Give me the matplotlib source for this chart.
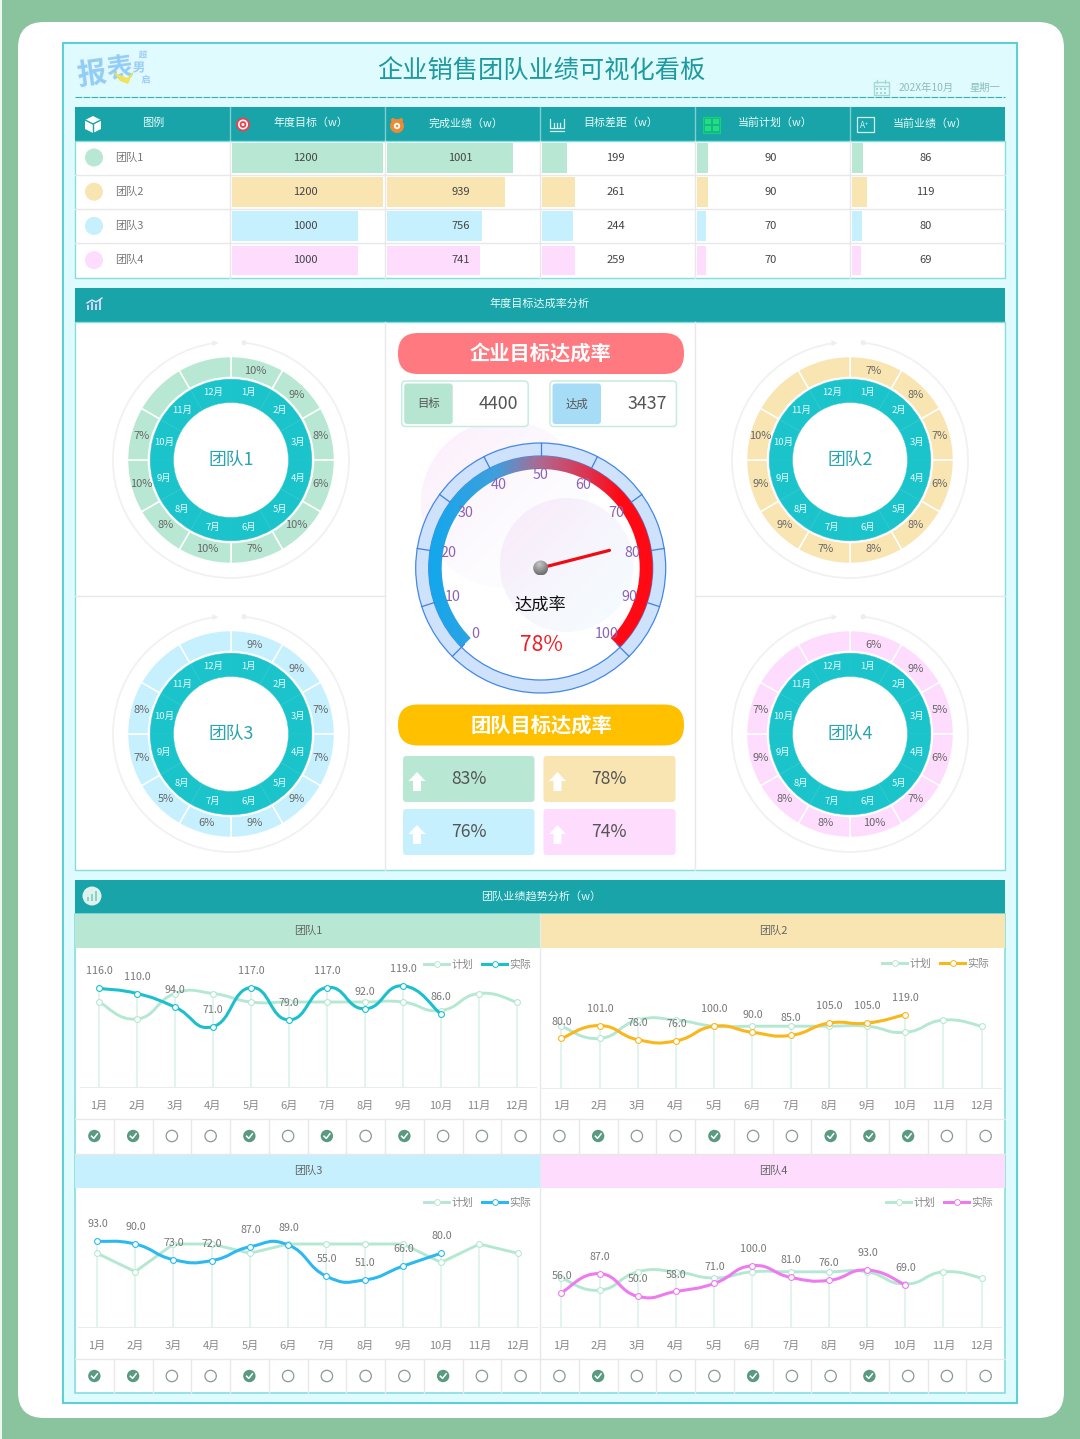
import numpy as np
import matplotlib
matplotlib.use("Agg")
import matplotlib.pyplot as plt
from matplotlib import patches as mp
from matplotlib.colors import LinearSegmentedColormap, to_rgb
from matplotlib.lines import Line2D
from matplotlib.path import Path
import matplotlib.patheffects as pe

plt.rcParams["font.family"] = ["Noto Sans CJK SC", "DejaVu Sans"]

# ---------- data ----------
MONTHS = ["1月", "2月", "3月", "4月", "5月", "6月", "7月", "8月", "9月", "10月", "11月", "12月"]
TEAMS = ["团队1", "团队2", "团队3", "团队4"]

TABLE_HEADERS = ["年度目标（w）", "完成业绩（w）", "目标差距（w）", "当前计划（w）", "当前业绩（w）"]
ANNUAL_TARGET = [1200, 1200, 1000, 1000]
COMPLETED = [1001, 939, 756, 741]
TARGET_GAP = [199, 261, 244, 259]
CURRENT_PLAN = [90, 90, 70, 70]
CURRENT_ACTUAL = [86, 119, 80, 69]

PCT_TEAM1 = ["10%", "9%", "8%", "6%", "10%", "7%", "10%", "8%", "10%", "7%", "", ""]
PCT_TEAM2 = ["7%", "8%", "7%", "6%", "8%", "8%", "7%", "9%", "9%", "10%", "", ""]
PCT_TEAM3 = ["9%", "9%", "7%", "7%", "9%", "9%", "6%", "5%", "7%", "8%", "", ""]
PCT_TEAM4 = ["6%", "9%", "5%", "6%", "7%", "10%", "8%", "8%", "9%", "7%", "", ""]

PLAN_TEAM1 = [100, 80, 110, 110, 100, 100, 100, 100, 100, 90, 110, 100]
PLAN_TEAM2 = [100, 80, 110, 110, 100, 100, 100, 100, 100, 90, 110, 100]
PLAN_TEAM3 = [80, 60, 90, 90, 80, 90, 90, 90, 90, 70, 90, 80]
PLAN_TEAM4 = [80, 60, 90, 90, 80, 90, 90, 90, 90, 70, 90, 80]

ACTUAL_TEAM1 = [116, 110, 94, 71, 117, 79, 117, 92, 119, 86]
ACTUAL_TEAM2 = [80, 101, 78, 76, 100, 90, 85, 105, 105, 119]
ACTUAL_TEAM3 = [93, 90, 73, 72, 87, 89, 55, 51, 66, 80]
ACTUAL_TEAM4 = [56, 87, 50, 58, 71, 100, 81, 76, 93, 69]

COMPANY_TARGET = 4400
COMPANY_DONE = 3437
COMPANY_RATE = 78
TEAM_RATE = [83, 78, 76, 74]
GAUGE_TICKS = [0, 10, 20, 30, 40, 50, 60, 70, 80, 90, 100]

# ---------- styling ----------
W, H = 1080, 1439
GREEN_BG = "#8ac49f"
TEAL = "#18a4a8"
EDGE = "#86dde0"
GRID = "#e8e8e8"
TEAM_COLORS = ["#b8e8d4", "#f8e5b2", "#c6f0fe", "#fddcfd"]
ACTUAL_COLORS = ["#1cc0cc", "#fab71b", "#2bb9f0", "#ee7bee"]
PLAN_COLOR = "#b5e8d3"

fig = plt.figure(figsize=(W / 100, H / 100), dpi=100, facecolor=GREEN_BG)


def ax_px(x0, y0, x1, y1, zorder=1):
    """Axes placed by pixel box, y measured from the top of the figure."""
    ax = fig.add_axes([x0 / W, 1 - y1 / H, (x1 - x0) / W, (y1 - y0) / H], zorder=zorder)
    ax.patch.set_alpha(0)
    return ax


def canvas(zorder):
    ax = ax_px(0, 0, W, H, zorder)
    ax.set_xlim(0, W)
    ax.set_ylim(H, 0)
    ax.axis("off")
    return ax


bg = canvas(0)
fg = canvas(6)


def rect(ax, x0, y0, x1, y1, fc, ec="none", lw=0, z=1, r=0):
    if r:
        p = mp.FancyBboxPatch((x0, y0), x1 - x0, y1 - y0, boxstyle=f"round,pad=0,rounding_size={r}",
                              fc=fc, ec=ec, lw=lw, zorder=z)
    else:
        p = mp.Rectangle((x0, y0), x1 - x0, y1 - y0, fc=fc, ec=ec, lw=lw, zorder=z)
    ax.add_patch(p)
    return p


def label(ax, x, y, s, size=8, color="#555555", ha="center", weight="normal", z=5):
    return ax.text(x, y, s, fontsize=size, color=color, ha=ha, va="center", weight=weight, zorder=z)


# ---------- page frame ----------
rect(bg, 0, 0, 1.5, H, "#eef6f0")
rect(bg, 18, 22, 1064, 1418, "white", r=26)
rect(bg, 62.5, 42.5, 1017, 1403, "#dffbfd", ec="#5dcfd5", lw=1.5)

label(fg, 541, 70.5, "企业销售团队业绩可视化看板", 18.2, "#1d9a9f", weight="medium")
bg.plot([75, 1005], [96.5, 96.5], color="#2db2b8", lw=0.8, ls=(0, (6, 1.2)))
label(fg, 899, 88, "202X年10月", 7.4, "#8dbcba", ha="left")
label(fg, 969, 88, "星期一", 7.4, "#8dbcba", ha="left")

# calendar glyph
rect(fg, 873.5, 82, 889, 95, "none", ec="#a8d8d5", lw=1)
fg.plot([873.5, 889], [86, 86], color="#a8d8d5", lw=1)
fg.plot([877, 877], [79.5, 83], color="#a8d8d5", lw=1)
fg.plot([885, 885], [79.5, 83], color="#a8d8d5", lw=1)
for gx in (877, 881, 885):
    for gy in (89, 92.5):
        rect(fg, gx - 1, gy - 1, gx + 1, gy + 1, "#a8d8d5")

# brand mark
brand = [pe.withStroke(linewidth=1.6, foreground="#e6f7ff")]
for gx, gy, s, fs, rot in [(92, 74, "报", 21, 8), (120, 69, "表", 19, 8), (143, 55, "超", 6, 0),
                           (139, 68, "男", 9, 0), (146, 80, "启", 6.5, 0)]:
    t = fg.text(gx, gy, s, fontsize=fs, rotation=rot, color="#8fcdf5", ha="center", va="center",
                weight="bold", alpha=0.9, zorder=5)
    t.set_path_effects(brand)
fg.add_patch(mp.Polygon([[113, 72], [127, 78], [134, 71], [128, 84], [120, 81]], fc="#f0e25a", ec="none", zorder=6))

# ---------- summary table ----------
COL_X = [230, 385, 540, 695, 850, 1005]
ROW_TOP, ROW_BOTTOM = 141, 277.5
rect(bg, 75, 107, 1005, 141, TEAL)
rect(bg, 75, ROW_TOP, 1005, ROW_BOTTOM, "white", ec=EDGE, lw=1)
for yy in (175, 209.3, 243.4):
    bg.plot([75, 1005], [yy, yy], color=GRID, lw=1, zorder=2)
for xx in COL_X[:-1]:
    bg.plot([xx, xx], [107, 141], color="#7fcfd0", lw=1, zorder=2)
    bg.plot([xx, xx], [141, ROW_BOTTOM], color=GRID, lw=1, zorder=2)

label(fg, 153, 123, "图例", 8, "#e8fbfb")
for i, name in enumerate(TEAMS):
    yy = 157.5 + 34.2 * i
    fg.add_patch(mp.Circle((94, yy), 9, fc=TEAM_COLORS[i], ec="none"))
    label(fg, 115, yy, name, 8, "#777777", ha="left")

table_columns = [ANNUAL_TARGET, COMPLETED, TARGET_GAP, CURRENT_PLAN, CURRENT_ACTUAL]
for c, (head, col) in enumerate(zip(TABLE_HEADERS, table_columns)):
    left = COL_X[c] + 2
    ax = ax_px(left, ROW_TOP, left + 151, ROW_BOTTOM, 2)
    ax.barh(range(4), col, height=0.87, color=TEAM_COLORS)
    ax.set_xlim(0, 1200)
    ax.set_ylim(3.5, -0.5)
    ax.axis("off")
    for r, v in enumerate(col):
        ax.text(586, r, str(v), fontsize=8, color="#444444", ha="center", va="center")
    label(fg, COL_X[c] + 80.5, 123, head, 7.9, "#e8fbfb")

# header icons
fg.add_patch(mp.Polygon([[93, 116], [101, 120], [101, 129], [93, 133], [85, 129], [85, 120]], fc="white", ec="none"))
fg.plot([85, 93, 101], [120, 124, 120], color=TEAL, lw=1)
fg.plot([93, 93], [124, 133], color=TEAL, lw=1)
for rr, cc in ((7, "#e8434f"), (5, "white"), (3.4, "#e8434f"), (1.5, "white")):
    fg.add_patch(mp.Circle((243, 124.5), rr, fc=cc, ec="none"))
fg.add_patch(mp.Circle((393, 120), 2, fc="#ee8a33", ec="none"))
fg.add_patch(mp.Circle((401, 120), 2, fc="#ee8a33", ec="none"))
fg.add_patch(mp.Circle((397, 126), 7, fc="#ee8a33", ec="none"))
fg.add_patch(mp.Circle((397, 126), 3.2, fc="white", ec="none"))
fg.add_patch(mp.Circle((397, 126), 1.3, fc="#ee8a33", ec="none"))
fg.plot([550, 550, 564, 564], [119, 127.5, 127.5, 119], color="#d5f2f2", lw=0.9)
fg.plot([550, 564], [130.5, 130.5], color="#d5f2f2", lw=0.9)
for gx in (554, 557, 560):
    fg.plot([gx, gx], [127, 123], color="#d5f2f2", lw=0.9)
rect(fg, 703, 117, 720, 132.5, "#16b58a", ec="#19d07c", lw=0.8)
for gx, gy in ((705, 119), (713, 119), (705, 126), (713, 126)):
    rect(fg, gx, gy, gx + 6, gy + 5, "#1fe07e")
rect(fg, 857, 117, 874, 132, "none", ec="#d5f2f2", lw=0.9)
label(fg, 865, 125, "A⁺", 6, "#d5f2f2")

# ---------- attainment section ----------
rect(bg, 75, 288, 1005, 321.5, TEAL)
rect(bg, 75, 321.5, 1005, 870, "white", ec=EDGE, lw=1)
label(fg, 540, 304, "年度目标达成率分析", 8, "#e8fbfb")
for xx in (385, 695):
    bg.plot([xx, xx], [321.5, 870], color=GRID, lw=1, zorder=2)
bg.plot([75, 385], [596, 596], color=GRID, lw=1, zorder=2)
bg.plot([695, 1005], [596, 596], color=GRID, lw=1, zorder=2)

# rising-bars glyph in the section banner
for gx, gh in ((88, 5), (92, 8), (96, 6), (100, 11)):
    rect(fg, gx - 1.3, 310 - gh, gx + 1.3, 310, "#cfd3f5")
fg.plot([87, 92, 96, 102], [303, 300, 302, 298], color="#e4e6fb", lw=1)

# monthly donuts
donut_pcts = [PCT_TEAM1, PCT_TEAM2, PCT_TEAM3, PCT_TEAM4]
donut_centres = [(231, 460), (850, 460), (231, 734), (850, 734)]
for name, pcts, colour, (cx, cy) in zip(TEAMS, donut_pcts, TEAM_COLORS, donut_centres):
    ax = ax_px(cx - 125, cy - 125, cx + 125, cy + 125, 3)
    equal_share = np.ones(len(MONTHS))
    ax.pie(equal_share, radius=103.5, startangle=90, counterclock=False, colors=[colour] * 12,
           wedgeprops=dict(width=21, edgecolor="white", linewidth=1.1))
    ax.pie(equal_share, radius=80.8, startangle=90, counterclock=False, colors=["#1bc3cb"] * 12,
           wedgeprops=dict(width=23.3, edgecolor="#2bc8cf", linewidth=0.3))
    ax.set_xlim(-125, 125)
    ax.set_ylim(-125, 125)
    ax.set_aspect("equal")
    for m, (mon, pct) in enumerate(zip(MONTHS, pcts)):
        a = np.deg2rad(90 - 30 * (m + 0.5))
        ax.text(69.5 * np.cos(a), 69.5 * np.sin(a), mon, fontsize=6.8, color="#e9fbfb", ha="center", va="center")
        ax.text(92.6 * np.cos(a), 92.6 * np.sin(a), pct, fontsize=8, color="#666666", ha="center", va="center")
    ax.text(0, 0, name, fontsize=12.8, color="#2ba4ad", ha="center", va="center")
    ax.add_patch(mp.Arc((0, 0), 236, 236, theta1=98, theta2=443.6, color="#f1f1f1", lw=1.3))
    a0 = np.deg2rad(83.6)
    ax.add_patch(mp.Circle((118 * np.cos(a0), 118 * np.sin(a0)), 2.6, fc="#eeeeee", ec="none"))
    a1 = np.deg2rad(98)
    ax1, ay1 = 118 * np.cos(a1), 118 * np.sin(a1)
    ax.add_patch(mp.Polygon([[ax1 + 4, ay1], [ax1 - 2, ay1 + 3], [ax1 - 2, ay1 - 3]], fc="#eeeeee", ec="none"))

# centre column
rect(fg, 398, 333, 684, 374, "#ff7a80", r=20)
label(fg, 541, 353, "企业目标达成率", 14.6, "white", weight="bold")
rect(fg, 398, 704.5, 684, 745.5, "#ffc000", r=20)
label(fg, 541, 725, "团队目标达成率", 14.6, "white", weight="bold")

for x0, tag_col, tag, val in ((401.7, "#b6e6d2", "目标", COMPANY_TARGET), (550, "#a6dcf6", "达成", COMPANY_DONE)):
    rect(fg, x0, 381, x0 + 126.5, 426.5, "white", ec="#c6ecdf", lw=1.1, r=4)
    rect(fg, x0 + 2.5, 383.5, x0 + 51, 424, tag_col, r=3)
    label(fg, x0 + 27, 404, tag, 8.2, "#555555")
    label(fg, x0 + 97, 404, str(val), 12.8, "#555555")

tile_boxes = [(403, 756, 534.5, 802), (543.5, 756, 675.5, 802), (403, 809, 534.5, 855), (543.5, 809, 675.5, 855)]
for (x0, y0, x1, y1), colour, rate in zip(tile_boxes, TEAM_COLORS, TEAM_RATE):
    rect(fg, x0, y0, x1, y1, colour, r=3.5)
    label(fg, x0 + 65.5, (y0 + y1) / 2, f"{rate}%", 12.6, "#555555")
    ax0, ymid = x0 + 14, (y0 + y1) / 2 + 3
    fg.add_patch(mp.Polygon([[ax0, ymid - 10], [ax0 + 8.5, ymid - 1], [ax0 + 4, ymid - 1], [ax0 + 4, ymid + 9],
                             [ax0 - 4, ymid + 9], [ax0 - 4, ymid - 1], [ax0 - 8.5, ymid - 1]], fc="white", ec="none"))

# ---------- company gauge ----------
GX, GY = 540.7, 568
gauge = ax_px(GX - 165, GY - 165, GX + 165, GY + 165, 4)
gauge.axis("off")


def gradient_disc(ax, cx, cy, r, c0, c1, a0, a1, z):
    n = 120
    u, v = np.meshgrid(np.linspace(0, 1, n), np.linspace(0, 1, n))
    t = np.clip((u + (1 - v)) / 2, 0, 1)[..., None]
    rgb = (1 - t) * np.array(to_rgb(c0)) + t * np.array(to_rgb(c1))
    alpha = (1 - t) * a0 + t * a1
    im = ax.imshow(np.dstack([rgb, alpha]), extent=(cx - r, cx + r, cy - r, cy + r), origin="lower",
                   interpolation="bilinear", aspect="auto", zorder=z)
    im.set_clip_path(mp.Circle((cx, cy), r, transform=ax.transData))


gradient_disc(gauge, -36, 64, 84, "#fde6fb", "#f4fdff", 0.75, 0.05, 1)
gradient_disc(gauge, 26, 3, 67, "#fbe6fa", "#ecfcff", 0.8, 0.55, 2)

gauge.add_patch(mp.Wedge((0, 0), 125, 0, 360, width=13, fc="#cfe2fb", ec="#4488e6", lw=0.9, zorder=3))

ring = LinearSegmentedColormap.from_list(
    "ring", [(0, "#12a8ec"), (0.3, "#3f9fdc"), (0.5, "#b0688f"), (0.72, "#e0304c"), (0.85, "#ff0a14"), (1, "#ff0a14")])
im = gauge.imshow(np.linspace(0, 1, 256)[None, :], extent=(-112, 112, -112, 112), cmap=ring,
                  aspect="auto", zorder=4, origin="lower")
im.set_clip_path(mp.Wedge((0, 0), 112, -45, 225, width=13, transform=gauge.transData))

for tick in GAUGE_TICKS:
    a = np.deg2rad(225 - 270 * tick / 100)
    inner = 108 if tick in (0, 100) else 112
    gauge.plot([inner * np.cos(a), 125 * np.cos(a)], [inner * np.sin(a), 125 * np.sin(a)],
               color="#3f80e0", lw=0.9, zorder=5)
    gauge.text(93 * np.cos(a), 93 * np.sin(a), str(tick), fontsize=10.3, color="#8d62b5",
               ha="center", va="center", zorder=6)

needle = np.deg2rad(225 - 270 * COMPANY_RATE / 100)
gauge.plot([0, 71 * np.cos(needle)], [0, 71 * np.sin(needle)], color="#f00a14", lw=2.3,
           solid_capstyle="round", zorder=7)
hub_y, hub_x = np.mgrid[-1:1:60j, -1:1:60j]
hub = np.sqrt((hub_x + 0.15) ** 2 + (hub_y - 0.45) ** 2)
hub_img = gauge.imshow(hub, extent=(-7.5, 7.5, -7.5, 7.5), cmap="gray_r", vmin=-0.9, vmax=3.2, origin="lower",
                       aspect="auto", zorder=8)
hub_img.set_clip_path(mp.Circle((0, 0), 7.5, transform=gauge.transData))
gauge.set_xlim(-165, 165)
gauge.set_ylim(-165, 165)
gauge.text(0, -37, "达成率", fontsize=12.4, color="#111111", ha="center", va="center", zorder=8)
gauge.text(0.5, -77, f"{COMPANY_RATE}%", fontsize=15.2, color="#f01c24", ha="center", va="center", zorder=8)

# ---------- trend section ----------
rect(bg, 75, 880, 1005, 913.5, TEAL)
rect(bg, 75, 913.5, 1005, 1393, "white", ec=EDGE, lw=1.2)
label(fg, 541, 896, "团队业绩趋势分析（w）", 8, "#e8fbfb")
fg.add_patch(mp.Circle((92, 896), 9.5, fc="#dff3ee", ec="none"))
for gx, gh in ((88, 4), (92, 7), (96, 10)):
    rect(fg, gx - 1.2, 901 - gh, gx + 1.2, 901, "#8fd3c8")

plans = [PLAN_TEAM1, PLAN_TEAM2, PLAN_TEAM3, PLAN_TEAM4]
actuals = [ACTUAL_TEAM1, ACTUAL_TEAM2, ACTUAL_TEAM3, ACTUAL_TEAM4]
plan_smooth = [True, True, False, True]
first_x = [99, 561.3, 97, 561.3]
last_x = [516.7, 981.7, 517.7, 981.7]
baselines = [1087, 1087.5, 1327, 1327]
px_per_unit = [0.85, 0.613, 0.922, 0.613]
panel_left = [75, 540, 75, 540]
header_top = [913.5, 913.5, 1153.5, 1153.5]
legend_anchor = [(531, 965), (989, 964), (531, 1203), (993, 1203)]


def smooth_curve(xs, ys):
    """Bezier path through the points, control handles taken from neighbouring points."""
    pts = np.column_stack([xs, ys]).astype(float)
    n = len(pts)
    verts, codes = [pts[0]], [Path.MOVETO]
    for i in range(n - 1):
        prev_pt = pts[max(i - 1, 0)]
        next_pt = pts[min(i + 2, n - 1)]
        verts += [pts[i] + 0.25 * (pts[i + 1] - prev_pt),
                  pts[i + 1] - 0.25 * (next_pt - pts[i]),
                  pts[i + 1]]
        codes += [Path.CURVE4] * 3
    return Path(verts, codes)


for t in range(4):
    left = panel_left[t]
    right = left + 465
    top = header_top[t]
    rect(bg, left, top, right, top + 34.5, TEAM_COLORS[t], z=2)
    label(fg, left + 233, top + 17, TEAMS[t], 8, "#666666")

    step = (last_x[t] - first_x[t]) / 11
    base = baselines[t]
    height = 136
    ax = ax_px(first_x[t] - step / 2, base - height, last_x[t] + step / 2, base, 3)
    plan, actual = plans[t], actuals[t]
    xs_plan = np.arange(len(plan))
    xs_act = np.arange(len(actual))

    tops = [max(p, actual[i]) if i < len(actual) else p for i, p in enumerate(plan)]
    ax.vlines(xs_plan, 0, tops, color="#d8f1ea", lw=1.1, zorder=1)

    if plan_smooth[t]:
        plan_line = smooth_curve(xs_plan, plan)
    else:
        plan_line = Path(np.column_stack([xs_plan, plan]))
    ax.add_patch(mp.PathPatch(plan_line, fc="none", ec=PLAN_COLOR, lw=2.1, capstyle="round", zorder=2))
    ax.plot(xs_plan, plan, ls="none", marker="o", ms=4.2, mfc="white", mec=PLAN_COLOR, mew=0.8, zorder=3)

    ax.add_patch(mp.PathPatch(smooth_curve(xs_act, actual), fc="none", ec=ACTUAL_COLORS[t], lw=2.2,
                              capstyle="round", zorder=4))
    ax.plot(xs_act, actual, ls="none", marker="o", ms=4.2, mfc="white", mec=ACTUAL_COLORS[t], mew=0.8, zorder=5)

    for i, v in enumerate(actual):
        ax.annotate(f"{v:.1f}", (i, v), xytext=(0.3, 12.2), textcoords="offset points", fontsize=7.7,
                    color="#777777", ha="center", va="center", zorder=6)

    ax.set_xlim(-0.5, 11.5)
    ax.set_ylim(0, height / px_per_unit[t])
    ax.set_xticks(xs_plan, MONTHS)
    ax.set_yticks([])
    ax.tick_params(axis="x", length=0, pad=9.8, labelsize=8, labelcolor="#888888")
    for side in ("top", "left", "right"):
        ax.spines[side].set_visible(False)
    ax.spines["bottom"].set_color("#e6eeec")

    handles = [Line2D([], [], color=PLAN_COLOR, lw=2.1, marker="o", ms=4.2, mfc="white", mec=PLAN_COLOR, mew=0.7),
               Line2D([], [], color=ACTUAL_COLORS[t], lw=2.2, marker="o", ms=4.2, mfc="white",
                      mec=ACTUAL_COLORS[t], mew=0.7)]
    ax.legend(handles, ["计划", "实际"], ncol=2, loc="center right", frameon=False, numpoints=1,
              bbox_to_anchor=legend_anchor[t], bbox_transform=bg.transData, fontsize=7.8,
              labelcolor="#888888", borderpad=0, borderaxespad=0, handlelength=2.3,
              handletextpad=0.2, columnspacing=0.85)

    # status row: a month is ticked once its actual reaches the plan
    row_top = top + 205.5
    row_bottom = top + 239.5
    cell = 465 / 12
    bg.plot([left, right], [row_top, row_top], color=GRID, lw=1, zorder=2)
    for i in range(1, 12):
        bg.plot([left + cell * i] * 2, [row_top, row_bottom], color=GRID, lw=1, zorder=2)
    for i in range(12):
        cx = left + cell * (i + 0.5)
        cy = (row_top + row_bottom) / 2
        if i < len(actual) and actual[i] >= plan[i]:
            fg.add_patch(mp.Circle((cx, cy), 6.2, fc="#5a9a80", ec="none"))
            fg.plot([cx - 2.8, cx - 0.6, cx + 3], [cy + 0.2, cy + 2.4, cy - 2.2], color="white", lw=1.1)
        else:
            fg.add_patch(mp.Circle((cx, cy), 5.7, fc="white", ec="#8b9a96", lw=0.9))

bg.plot([540, 540], [913.5, 1393], color=GRID, lw=1, zorder=2)
bg.plot([75, 1005], [1153.5, 1153.5], color=GRID, lw=1, zorder=2)

fig.savefig("out.png", dpi=100, facecolor=GREEN_BG)
